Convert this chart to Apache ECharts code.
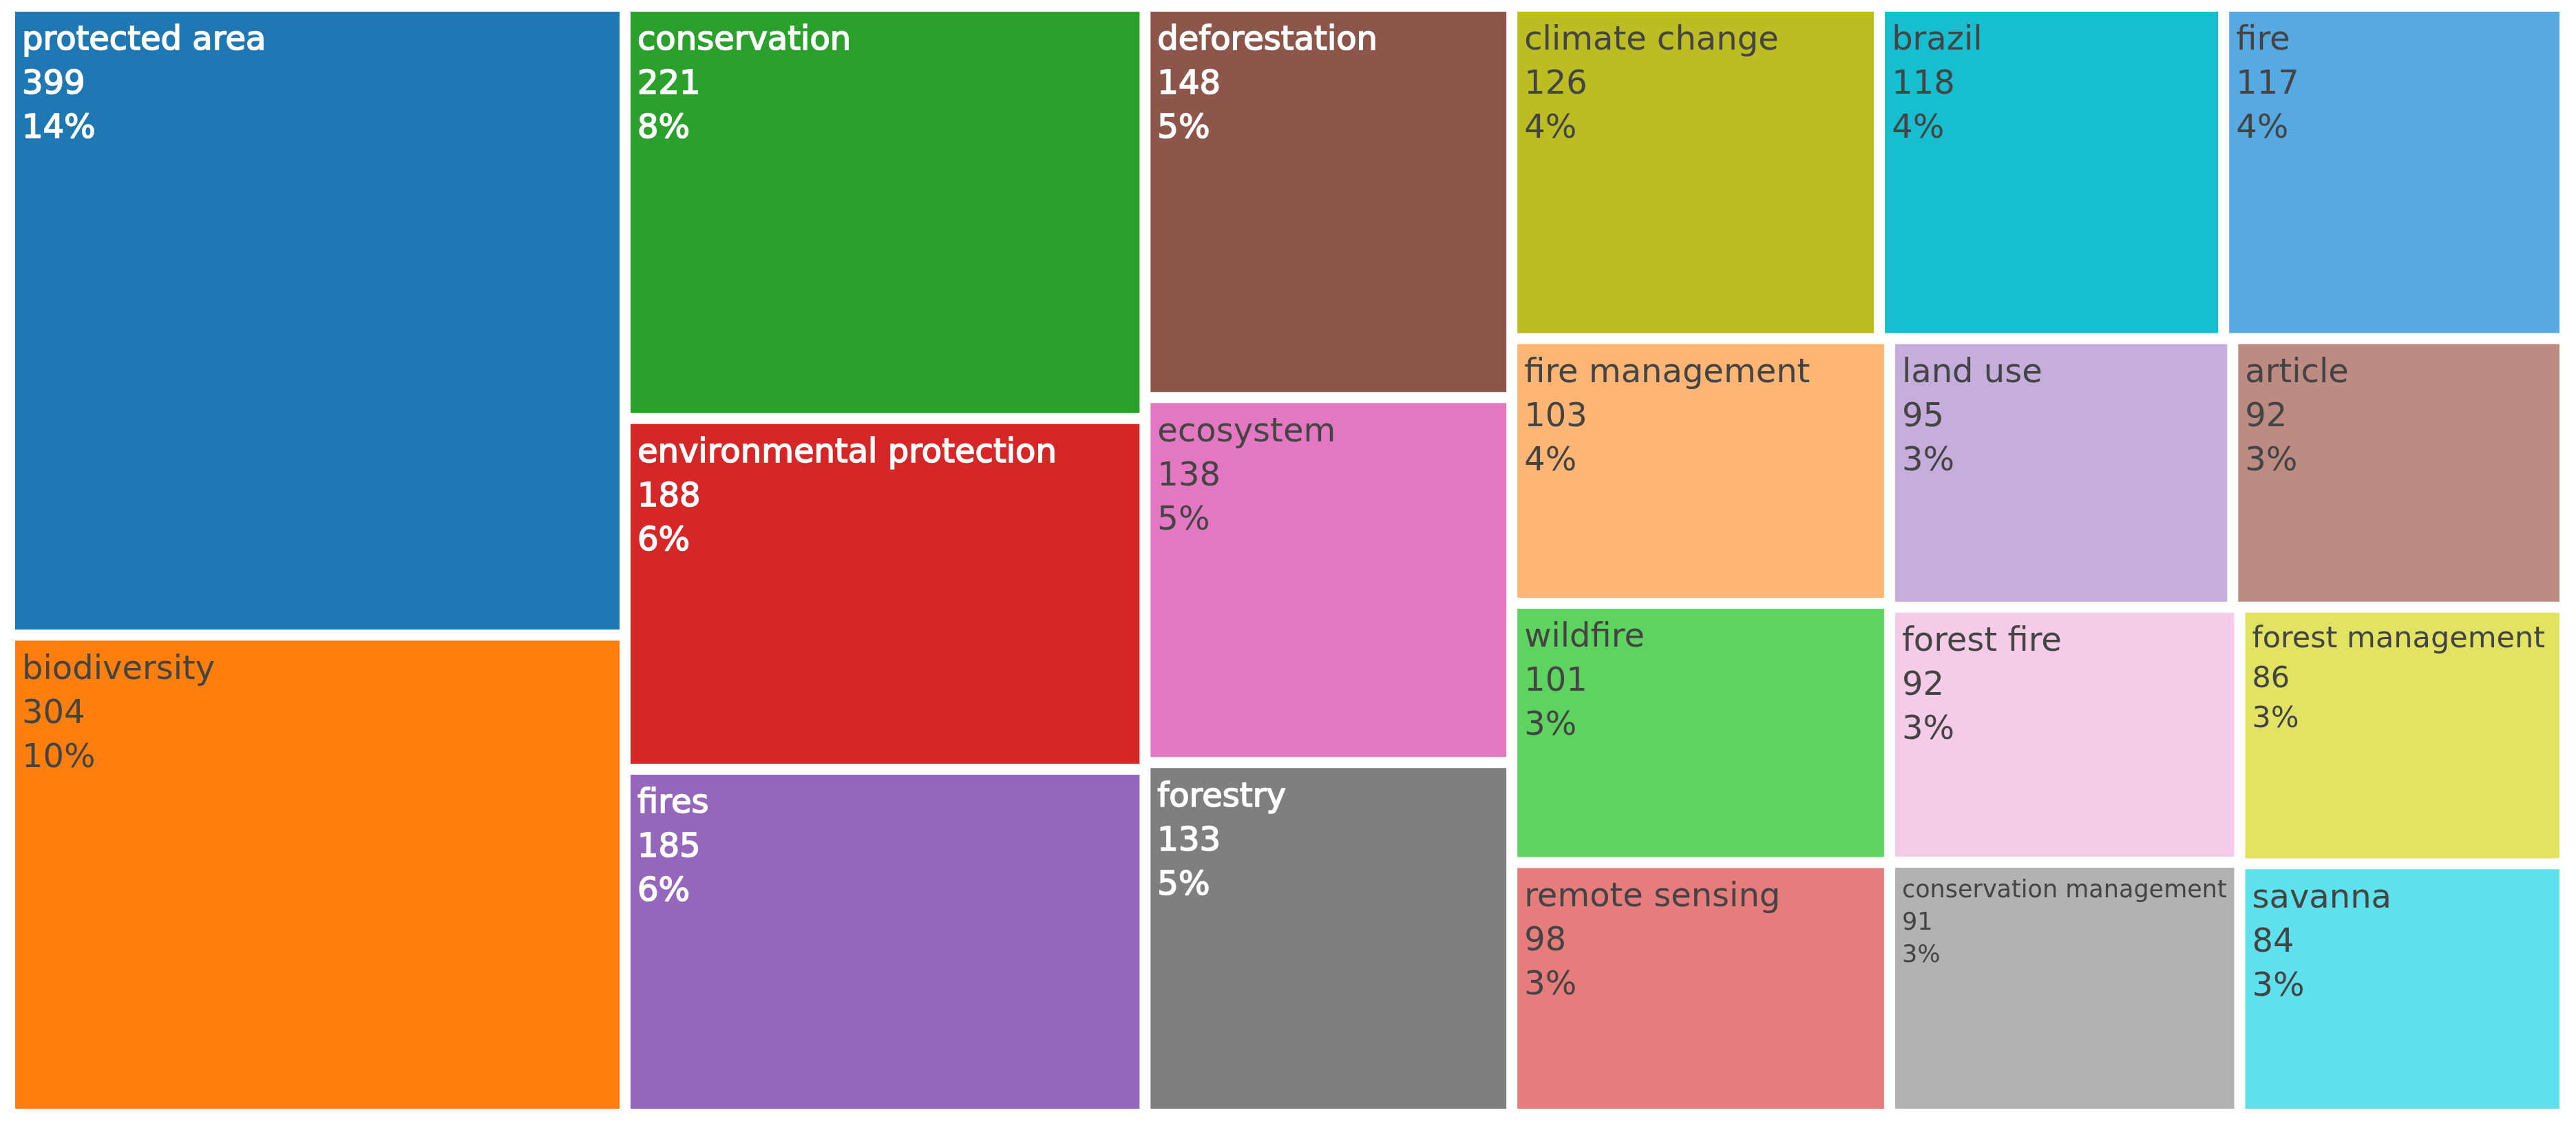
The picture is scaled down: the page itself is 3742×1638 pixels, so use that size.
<!DOCTYPE html>
<html>
<head>
<meta charset="utf-8">
<script src="https://cdn.jsdelivr.net/npm/echarts@6/dist/echarts.min.js"></script>
<style>
  html, body { margin: 0; padding: 0; background: #fff; }
  #chart { width: 3742px; height: 1638px; }
</style>
</head>
<body>
<div id="chart"></div>
<script>
// ---- data ----
const keywords = [
  'protected area', 'biodiversity', 'conservation', 'environmental protection', 'fires',
  'deforestation', 'ecosystem', 'forestry', 'climate change', 'brazil',
  'fire', 'fire management', 'wildfire', 'remote sensing', 'land use',
  'article', 'forest fire', 'conservation management', 'forest management', 'savanna'
];
const counts = [
  399, 304, 221, 188, 185,
  148, 138, 133, 126, 118,
  117, 103, 101, 98, 95,
  92, 92, 91, 86, 84
];

// ---- styles ----
const baseColors = ['#1f77b4', '#ff7f0e', '#2ca02c', '#d62728', '#9467bd',
                    '#8c564b', '#e377c2', '#7f7f7f', '#bcbd22', '#17becf'];
const extendedColors = ['#57a9e2', '#ffb574', '#5fd35f', '#e77c7c', '#c6aedc',
                        '#bc8b81', '#f4cce8', '#b2b2b2', '#e2e362', '#5fe0ed'];
const palette = baseColors.concat(extendedColors);
const fontSizeOverride = { 'forest management': 43, 'conservation management': 35 };
const FONT = '"DejaVu Sans", Verdana, sans-serif';

function isLight(hex) {
  const r = parseInt(hex.slice(1, 3), 16), g = parseInt(hex.slice(3, 5), 16), b = parseInt(hex.slice(5, 7), 16);
  return (r * 299 + g * 587 + b * 114) / 1000 >= 128;
}

const total = counts.reduce((a, b) => a + b, 0);

const data = keywords.map((name, i) => {
  const color = palette[i % palette.length];
  const light = isLight(color);
  const fs = fontSizeOverride[name] || 48;
  return {
    name: name,
    value: counts[i],
    itemStyle: { color: color },
    label: {
      color: light ? '#444444' : '#ffffff',
      fontSize: fs,
      lineHeight: Math.round(fs * 1.34),
      padding: [fs === 48 ? 11 : 10, 10, 0, 10],
      textBorderColor: light ? 'transparent' : '#ffffff',
      textBorderWidth: light ? 0 : 1.6
    }
  };
});

const chart = echarts.init(document.getElementById('chart'), null, { renderer: 'canvas' });
chart.setOption({
  animation: false,
  backgroundColor: '#ffffff',
  series: [{
    type: 'treemap',
    left: 22, top: 17, right: 24, bottom: 28,
    roam: false,
    nodeClick: false,
    breadcrumb: { show: false },
    squareRatio: 1,
    sort: false,
    visibleMin: 0,
    levels: [{ itemStyle: { gapWidth: 16, borderWidth: 0 } }],
    itemStyle: { borderWidth: 0, gapWidth: 16 },
    label: {
      show: true,
      position: 'insideTopLeft',
      fontFamily: FONT,
      fontSize: 48,
      overflow: 'none',
      formatter: function (p) {
        return p.name + '\n' + p.value + '\n' + Math.round(p.value / total * 100) + '%';
      }
    },
    data: data
  }]
});
</script>
</body>
</html>
